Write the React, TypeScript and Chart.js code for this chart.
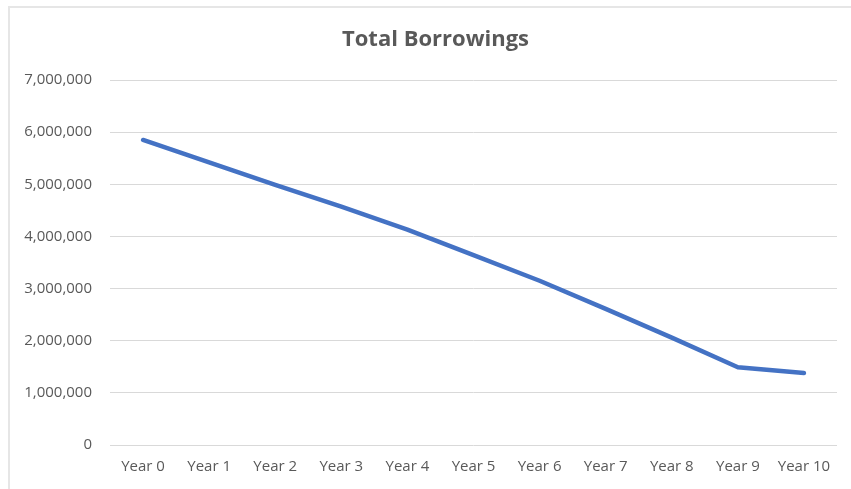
import React, { useEffect, useRef } from "react";
import { Chart, registerables } from "chart.js";

Chart.register(...registerables);

const TITLE = "Total Borrowings";
const CATEGORIES = ["Year 0", "Year 1", "Year 2", "Year 3", "Year 4", "Year 5", "Year 6", "Year 7", "Year 8", "Year 9", "Year 10"];
const BORROWINGS = [5850000, 5420000, 4990000, 4570000, 4130000, 3640000, 3150000, 2610000, 2060000, 1490000, 1380000];
const Y_MIN = 0;
const Y_MAX = 7000000;
const Y_STEP = 1000000;

const TEXT = "#595959";
const FONT = "'Open Sans', 'Liberation Sans', sans-serif";

const titlePlugin = {
  id: "excelTitle",
  afterDraw(chart: any) {
    const ctx = chart.ctx;
    ctx.save();
    ctx.font = `bold 22px ${FONT}`;
    ctx.fillStyle = TEXT;
    ctx.textAlign = "center";
    ctx.textBaseline = "middle";
    const cx = chart.width / 2 + 10;
    ctx.fillText(TITLE, cx, 40);
    ctx.restore();
  },
};

export default function App() {
  const ref = useRef<HTMLCanvasElement | null>(null);
  useEffect(() => {
    if (!ref.current) return;
    const chart = new Chart(ref.current, {
      type: "line",
      data: {
        labels: CATEGORIES,
        datasets: [
          {
            label: TITLE,
            data: BORROWINGS,
            borderColor: "#4472C4",
            backgroundColor: "#4472C4",
            borderWidth: 4.5,
            pointRadius: 0,
            tension: 0,
            borderCapStyle: "round",
            borderJoinStyle: "round",
          },
        ],
      },
      plugins: [titlePlugin],
      options: {
        responsive: false,
        animation: false,
        layout: { padding: { left: 0, right: 14, top: 80, bottom: 0 } },
        plugins: {
          legend: { display: false },
          tooltip: { enabled: false },
          title: { display: false },
        },
        scales: {
          x: {
            offset: true,
            afterFit: (axis: any) => {
              axis.height = 44;
            },
            grid: { display: false, drawTicks: false },
            border: { display: false },
            ticks: { color: TEXT, font: { family: FONT, size: 15 }, padding: 13, maxRotation: 0, autoSkip: false },
          },
          y: {
            min: Y_MIN,
            max: Y_MAX,
            afterFit: (axis: any) => {
              axis.width = 110;
            },
            grid: { color: "#d9d9d9", lineWidth: 1, drawTicks: false },
            border: { display: false },
            ticks: {
              stepSize: Y_STEP,
              color: TEXT,
              font: { family: FONT, size: 15 },
              padding: 18,
              callback: (v: any) => Number(v).toLocaleString("en-US"),
            },
          },
        },
      },
    });
    return () => chart.destroy();
  }, []);
  return (
    <div style={{ position: "fixed", left: 0, top: 0, width: 851, height: 489, background: "#fff" }}>
      <canvas ref={ref} width={851} height={489} style={{ position: "absolute", left: 0, top: 0 }} />
      <div style={{ position: "absolute", left: 8, top: 6, width: 2, height: 483, background: "#e6e6e6" }} />
      <div style={{ position: "absolute", left: 8, top: 6, width: 843, height: 2, background: "#e6e6e6" }} />
    </div>
  );
}
